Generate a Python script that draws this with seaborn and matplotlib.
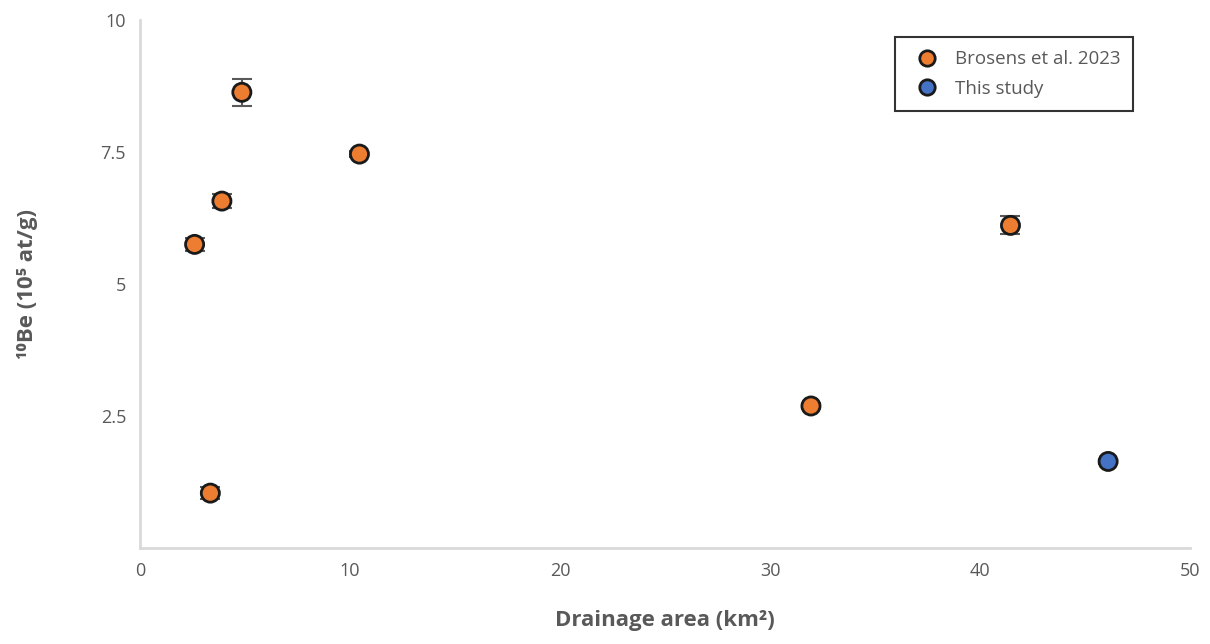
import matplotlib
matplotlib.use("Agg")
import matplotlib.pyplot as plt
import seaborn as sns
import pandas as pd

# data
brosens_area = [2.6, 3.35, 3.9, 4.85, 10.45, 31.95, 41.45]
brosens_be = [5.75, 1.04, 6.57, 8.63, 7.46, 2.69, 6.11]
brosens_err = [0.13, 0.11, 0.13, 0.26, 0.06, 0.06, 0.17]
study_area = [46.1]
study_be = [1.64]
study_err = [0.05]
series_names = ["Brosens et al. 2023", "This study"]
ytick_vals = [2.5, 5, 7.5, 10]
ytick_labels = ["2.5", "5", "7.5", "10"]
xtick_vals = [0, 10, 20, 30, 40, 50]

df = pd.DataFrame({
    "area": brosens_area + study_area,
    "be": brosens_be + study_be,
    "err": brosens_err + study_err,
    "source": [series_names[0]] * len(brosens_area) + [series_names[1]] * len(study_area),
})

sns.set_style("white")
plt.rcParams["font.family"] = ["Open Sans", "DejaVu Sans"]

fig = plt.figure(figsize=(12.1, 6.44), dpi=100)
ax = fig.add_axes([0.1157, 0.149, 0.8678, 0.82])

ax.errorbar(df["area"], df["be"], yerr=df["err"], fmt="none", ecolor="#595959",
            elinewidth=1.5, capsize=7.5, capthick=1.5, zorder=2)
sns.scatterplot(data=df, x="area", y="be", hue="source",
                palette={series_names[0]: "#ed7d31", series_names[1]: "#4472c4"},
                s=170, edgecolor="#1a1a1a", linewidth=2, ax=ax, zorder=3)

ax.set_xlim(0, 50)
ax.set_ylim(0, 10)
ax.set_xticks(xtick_vals)
ax.set_yticks(ytick_vals)
ax.set_yticklabels(ytick_labels)
ax.tick_params(axis="both", length=0, labelsize=13, colors="#595959", pad=10)

for side in ["top", "right"]:
    ax.spines[side].set_visible(False)
for side in ["left", "bottom"]:
    ax.spines[side].set_color("#d9d9d9")
    ax.spines[side].set_linewidth(2)

ax.set_xlabel("Drainage area (km²)", fontsize=16, fontweight="bold", color="#595959", labelpad=22)
ax.set_ylabel("¹⁰Be (10⁵ at/g)", fontsize=16, fontweight="bold", color="#595959", labelpad=45)

leg = ax.legend(loc="upper right", bbox_to_anchor=(0.955, 0.985), frameon=True, fancybox=False,
                fontsize=13.5, labelspacing=0.6, borderpad=0.7, handletextpad=0.5,
                markerscale=0.85)
leg.get_frame().set_edgecolor("black")
leg.get_frame().set_linewidth(1.5)
for t in leg.get_texts():
    t.set_color("#595959")

fig.savefig("out.png", dpi=100)
